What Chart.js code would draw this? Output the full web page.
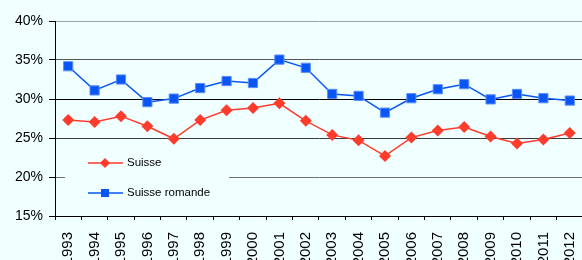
<!DOCTYPE html>
<html>
<head>
<meta charset="utf-8">
<script src="https://cdn.jsdelivr.net/npm/chart.js@4/dist/chart.umd.min.js"></script>
<style>
  html, body { margin: 0; padding: 0; background: #F0FFFF; overflow: hidden; width: 582px; height: 260px; }
  #wrap { position: absolute; left: 0; top: 0; width: 600px; height: 285px; }
</style>
</head>
<body>
<div id="wrap"><canvas id="c" width="600" height="285"></canvas></div>
<script>
const years = ["1993","1994","1995","1996","1997","1998","1999","2000","2001","2002","2003","2004","2005","2006","2007","2008","2009","2010","2011","2012"];
const suisse = [27.3,27.05,27.8,26.5,24.9,27.3,28.55,28.85,29.45,27.2,25.4,24.7,22.7,25.05,25.95,26.4,25.2,24.3,24.8,25.65];
const suisseRomande = [34.2,31.1,32.5,29.6,30.05,31.4,32.3,32.05,35.05,34.0,30.65,30.4,28.25,30.1,31.25,31.9,29.95,30.65,30.1,29.8];
const yTicks = [15,20,25,30,35,40];
const seriesNames = ["Suisse","Suisse romande"];

const RED = '#FF3B2B';
const BLUE = '#0A55F5';
const BG = '#F0FFFF';

const gridColors = {15:'rgba(0,0,0,0)',20:'#707070',25:'#3a3a3a',30:'#000000',35:'#555555',40:'#9aa4a8'};

const legendPlugin = {
  id: 'insideLegend',
  afterDatasetsDraw(chart) {
    const ctx = chart.ctx;
    ctx.save();
    ctx.fillStyle = BG;
    ctx.fillRect(65, 146, 164, 62);
    const items = chart.data.datasets;
    const ys = [163, 193];
    items.forEach((ds, i) => {
      const y = ys[i];
      ctx.strokeStyle = ds.borderColor;
      ctx.lineWidth = 1.5;
      ctx.beginPath();
      ctx.moveTo(88, y);
      ctx.lineTo(123, y);
      ctx.stroke();
      ctx.fillStyle = ds.pointBackgroundColor;
      ctx.beginPath();
      if (ds.pointStyle === 'rectRot') {
        ctx.moveTo(105, y - 5); ctx.lineTo(110, y); ctx.lineTo(105, y + 5); ctx.lineTo(100, y);
      } else {
        ctx.rect(101, y - 4, 8, 8);
      }
      ctx.closePath();
      ctx.fill();
      ctx.fillStyle = '#000';
      ctx.font = '11.5px "Liberation Sans", Arial, sans-serif';
      ctx.textBaseline = 'middle';
      ctx.textAlign = 'left';
      ctx.fillText(ds.label, 127, y);
    });
    ctx.restore();
  }
};

const bgPlugin = {
  id: 'bg',
  beforeDraw(chart) {
    const ctx = chart.ctx;
    ctx.save();
    ctx.fillStyle = BG;
    ctx.fillRect(0, 0, chart.width, chart.height);
    ctx.restore();
  }
};

new Chart(document.getElementById('c'), {
  type: 'line',
  data: {
    labels: years,
    datasets: [
      {
        label: seriesNames[0],
        data: suisse,
        borderColor: RED,
        backgroundColor: RED,
        pointBackgroundColor: RED,
        pointBorderColor: RED,
        pointStyle: 'rectRot',
        pointRadius: 6,
        pointBorderWidth: 0,
        borderWidth: 1.5,
        tension: 0
      },
      {
        label: seriesNames[1],
        data: suisseRomande,
        borderColor: BLUE,
        backgroundColor: BLUE,
        pointBackgroundColor: BLUE,
        pointBorderColor: '#5a8cff',
        pointStyle: 'rect',
        pointRadius: 6.5,
        pointBorderWidth: 1,
        borderWidth: 1.5,
        tension: 0
      }
    ]
  },
  options: {
    responsive: false,
    animation: false,
    devicePixelRatio: 1,
    layout: { padding: { top: 21, right: 9, bottom: 0, left: 0 } },
    plugins: { legend: { display: false }, tooltip: { enabled: false } },
    scales: {
      x: {
        type: 'category',
        offset: true,
        grid: { display: true, drawOnChartArea: false, offset: true, tickLength: 4, color: '#000', lineWidth: 1 },
        border: { display: true, color: '#000', width: 1 },
        ticks: {
          color: '#000',
          font: { family: '"Liberation Sans", Arial, sans-serif', size: 15 },
          minRotation: 90, maxRotation: 90, autoSkip: false, padding: 12
        },
        afterFit(scale) { scale.height = 69; }
      },
      y: {
        min: 15, max: 40,
        afterBuildTicks(scale) { scale.ticks = yTicks.map(v => ({ value: v })); },
        grid: {
          color: ctx => gridColors[ctx.tick.value] || '#555',
          tickColor: '#000',
          lineWidth: 1,
          tickLength: 6,
          drawTicks: true
        },
        border: { display: true, color: '#000', width: 1 },
        ticks: {
          color: '#000',
          font: { family: '"Liberation Sans", Arial, sans-serif', size: 14 },
          padding: 6,
          callback: v => v + '%'
        },
        afterFit(scale) { scale.width = 55; }
      }
    }
  },
  plugins: [bgPlugin, legendPlugin]
});
</script>
</body>
</html>
